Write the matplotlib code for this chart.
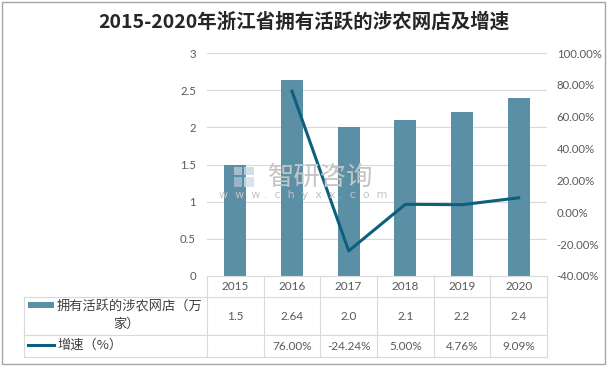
import matplotlib
matplotlib.use("Agg")
import matplotlib.pyplot as plt
from matplotlib.transforms import blended_transform_factory
from matplotlib.patches import Rectangle
from matplotlib.lines import Line2D

plt.rcParams['font.family'] = ['Noto Sans CJK SC', 'DejaVu Sans']

years = ['2015', '2016', '2017', '2018', '2019', '2020']
shops = [1.5, 2.64, 2.0, 2.1, 2.2, 2.4]
shop_labels = ['1.5', '2.64', '2.0', '2.1', '2.2', '2.4']
growth = [None, 76.00, -24.24, 5.00, 4.76, 9.09]
growth_labels = ['', '76.00%', '-24.24%', '5.00%', '4.76%', '9.09%']
title = '2015-2020年浙江省拥有活跃的涉农网店及增速'
series1_name = '拥有活跃的涉农网店（万'
series1_name2 = '家）'
series2_name = '增速（%）'

W, H = 608, 366
bar_color = '#5b8fa6'
line_color = '#0d5f7e'
grid_color = '#d9d9d9'
text_color = '#595959'
num_font = ['Lato', 'DejaVu Sans']

fig = plt.figure(figsize=(W / 100, H / 100), dpi=100)

def fx(x):
    return x / W

def fy(y):
    return 1 - y / H

left, right, top, bottom = 207, 547, 53, 276
ax = fig.add_axes([fx(left), fy(bottom), (right - left) / W, (bottom - top) / H])
ax2 = ax.twinx()

xs = list(range(len(years)))
ax.bar(xs, shops, width=0.39, color=bar_color, zorder=2)
ax.set_xlim(-0.5, len(years) - 0.5)
ax.set_ylim(0, 3)
ax.set_yticks([0, 0.5, 1, 1.5, 2, 2.5, 3])
ax.set_yticklabels(['0', '0.5', '1', '1.5', '2', '2.5', '3'], family=num_font)
ax.yaxis.grid(True, color=grid_color, linewidth=0.8, zorder=0)
ax.set_axisbelow(True)
ax.set_xticks([])
for s in ['top', 'left', 'right']:
    ax.spines[s].set_visible(False)
ax.spines['bottom'].set_color(grid_color)
ax.tick_params(axis='y', length=0, labelsize=8.2, labelcolor=text_color, pad=8)

gx = [i for i, g in enumerate(growth) if g is not None]
gy = [g for g in growth if g is not None]
ax2.plot(gx, gy, color=line_color, linewidth=2.2, zorder=3)
ax2.set_ylim(-40, 100)
ax2.set_yticks(list(range(-40, 101, 20)))
ax2.set_yticklabels(['%.2f%%' % v for v in range(-40, 101, 20)], family=num_font)
for s in ['top', 'left', 'right', 'bottom']:
    ax2.spines[s].set_visible(False)
ax2.tick_params(axis='y', length=0, labelsize=8.2, labelcolor=text_color, pad=7)

# watermark
fig.text(fx(321), fy(177), '智研咨询', fontsize=19, color='#c4c4c4', ha='center', va='center', zorder=5)
fig.text(fx(303), fy(195), 'w  w  w .  c  h  y  x  x .  c  o  m', fontsize=8, color='#c4c4c4', ha='center', va='center',
         family='DejaVu Sans', zorder=5)
for (x0, y0, w0, h0, c) in [(234, 167, 8, 8, '#b8c8da'), (244, 167, 10, 8, '#c9d6e4'),
                            (234, 177, 8, 10, '#a9bdd3'), (244, 177, 10, 10, '#d3dde8')]:
    fig.add_artist(Rectangle((fx(x0), fy(y0 + h0)), w0 / W, h0 / H, transform=fig.transFigure,
                             facecolor=c, edgecolor='none', alpha=0.8, zorder=5))

# data table
def hline(y, x0, x1):
    fig.add_artist(Line2D([fx(x0), fx(x1)], [fy(y), fy(y)], color=grid_color, linewidth=0.8,
                          transform=fig.transFigure))

def vline(x, y0, y1):
    fig.add_artist(Line2D([fx(x), fx(x)], [fy(y0), fy(y1)], color=grid_color, linewidth=0.8,
                          transform=fig.transFigure))

tbl_left = 24
r0, r1, r2, r3 = 276, 297, 335, 357
hline(r1, tbl_left, right)
hline(r2, tbl_left, right)
hline(r3, tbl_left, right)
vline(tbl_left, r1, r3)
ncol = len(years)
for i in range(ncol + 1):
    vline(left + (right - left) * i / ncol, r0, r3)

trans = blended_transform_factory(ax.transData, fig.transFigure)
for i in range(ncol):
    fig.text(i, fy(286), years[i], transform=trans, ha='center', va='center', fontsize=8.5,
             color=text_color, family=num_font)
    fig.text(i, fy(316), shop_labels[i], transform=trans, ha='center', va='center', fontsize=8.5,
             color=text_color, family=num_font)
    fig.text(i, fy(346), growth_labels[i], transform=trans, ha='center', va='center', fontsize=8.5,
             color=text_color, family=num_font)

fig.add_artist(Rectangle((fx(28), fy(308)), 26 / W, 6 / H, transform=fig.transFigure,
                         facecolor=bar_color, edgecolor='none'))
fig.add_artist(Line2D([fx(28), fx(54)], [fy(345), fy(345)], color=line_color, linewidth=2.2,
                      transform=fig.transFigure))
fig.text(fx(57), fy(306), series1_name, ha='left', va='center', fontsize=9.5, color='#404040')
fig.text(fx(126), fy(324), series1_name2, ha='center', va='center', fontsize=9.5, color='#404040')
fig.text(fx(57), fy(345), series2_name, ha='left', va='center', fontsize=9.5, color='#404040')

# title
fig.text(0.5, fy(22), title, ha='center', va='center', fontsize=14, fontweight='bold', color='#262626')

# outer border
fig.add_artist(Rectangle((fx(2), fy(364)), (W - 5) / W, (364 - 2) / H, transform=fig.transFigure,
                         facecolor='none', edgecolor='#a6a6a6', linewidth=1))

fig.savefig('out.png', dpi=100)
